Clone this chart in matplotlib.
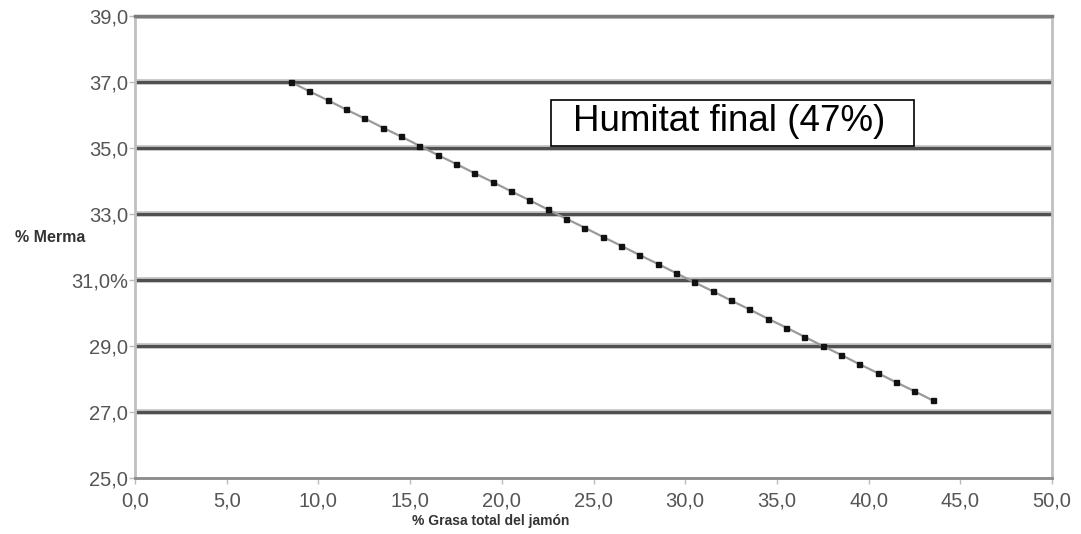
import matplotlib
matplotlib.use('Agg')
import matplotlib.pyplot as plt
from matplotlib.patches import Rectangle

plt.rcParams['font.family'] = ['Liberation Sans', 'DejaVu Sans']

# % grasa total del jamon vs % merma, humitat final 47%
grasa = [8.5, 9.5, 10.5, 11.5, 12.5, 13.5, 14.5, 15.5, 16.5, 17.5, 18.5, 19.5,
         20.5, 21.5, 22.5, 23.5, 24.5, 25.5, 26.5, 27.5, 28.5, 29.5, 30.5, 31.5,
         32.5, 33.5, 34.5, 35.5, 36.5, 37.5, 38.5, 39.5, 40.5, 41.5, 42.5, 43.5]
merma = [37.00, 36.72, 36.45, 36.17, 35.90, 35.62, 35.35, 35.07, 34.79, 34.52,
         34.24, 33.97, 33.69, 33.42, 33.14, 32.86, 32.59, 32.31, 32.04, 31.76,
         31.49, 31.21, 30.93, 30.66, 30.38, 30.11, 29.83, 29.56, 29.28, 29.00,
         28.73, 28.45, 28.18, 27.90, 27.63, 27.35]

x_ticks = [0, 5, 10, 15, 20, 25, 30, 35, 40, 45, 50]
x_labels = ['0,0', '5,0', '10,0', '15,0', '20,0', '25,0', '30,0', '35,0',
            '40,0', '45,0', '50,0']
y_ticks = [25, 27, 29, 31, 33, 35, 37, 39]
y_labels = ['25,0', '27,0', '29,0', '31,0%', '33,0', '35,0', '37,0', '39,0']
box_text = 'Humitat final (47%)'

fig = plt.figure(figsize=(10.81, 5.34), dpi=100)
ax = fig.add_axes([135 / 1081, 1 - 478 / 534, (1052 - 135) / 1081, (478 - 16) / 534])

# horizontal grid lines
for y in y_ticks[1:]:
    ax.axhline(y, color='#bdbdbd', lw=4.0, zorder=1)
    ax.axhline(y, color='#505050', lw=2.2, zorder=1.1)

ax.plot(grasa, merma, color='#9a9a9a', lw=1.6, zorder=3)
ax.plot(grasa, merma, ls='none', marker='s', ms=3.6, color='#111111', zorder=4)

ax.set_xlim(0, 50)
ax.set_ylim(25, 39)
ax.set_xticks(x_ticks)
ax.set_xticklabels(x_labels)
ax.set_yticks(y_ticks)
ax.set_yticklabels(y_labels)
ax.tick_params(axis='both', colors='#bbbbbb', labelcolor='#555555',
               labelsize=14.5, length=4, width=1)
ax.tick_params(axis='x', pad=6)
ax.tick_params(axis='y', pad=1)

for side in ['left', 'right']:
    ax.spines[side].set_color('#c0c0c0')
    ax.spines[side].set_linewidth(2)
ax.spines['bottom'].set_color('#8a8a8a')
ax.spines['bottom'].set_linewidth(2)
ax.spines['top'].set_color('#7a7a7a')
ax.spines['top'].set_linewidth(2.5)

fig.text(491 / 1081, 1 - 521 / 534, '% Grasa total del jamón', fontsize=10,
         fontweight='bold', color='#333333', va='center', ha='center')
fig.text(15 / 1081, 1 - 237 / 534, '% Merma', fontsize=11.5, fontweight='bold',
         color='#333333', va='center', ha='left')

# text box
ax.add_patch(Rectangle((22.7, 35.06), 19.8, 1.39, facecolor='white',
                       edgecolor='black', lw=1.2, zorder=5))
ax.text(23.88, 35.79, box_text, fontsize=26.5, color='black', va='center',
        ha='left', zorder=6)

fig.savefig('out.png', dpi=100)
